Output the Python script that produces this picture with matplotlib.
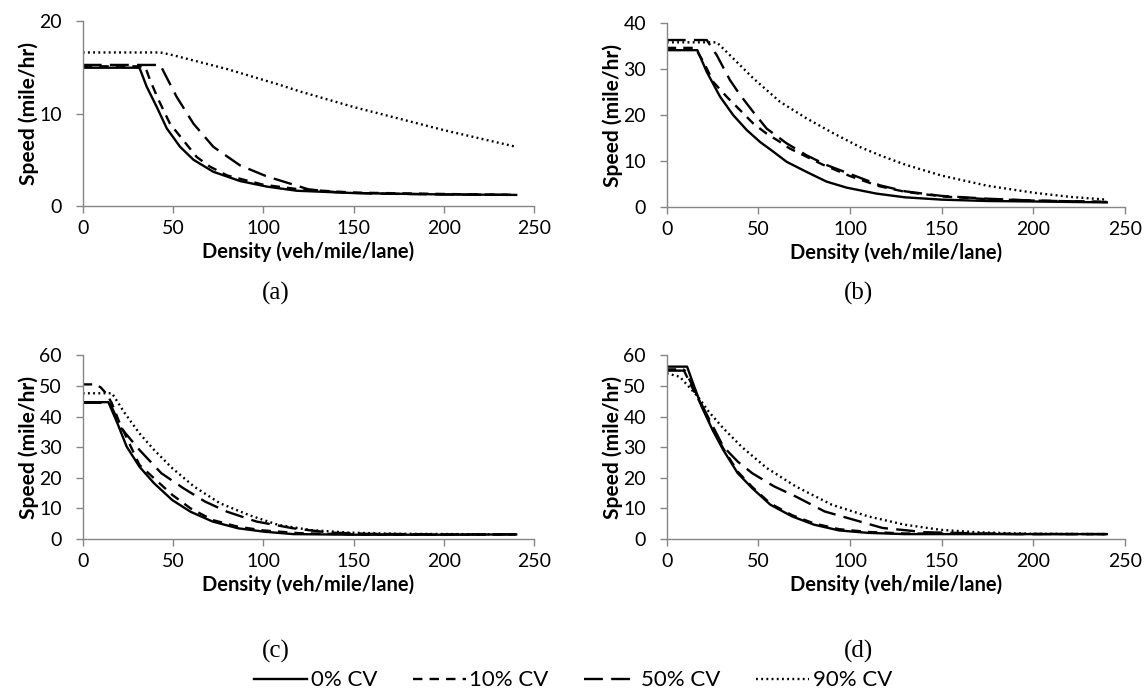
import matplotlib
matplotlib.use("Agg")
import matplotlib.pyplot as plt

plt.rcParams['font.family'] = ['Lato', 'DejaVu Sans']

# series labels
labels = ["0% CV", "10% CV", "50% CV", "90% CV"]

# (a) density / speed points
a_cv0_x = [0, 31.4, 35.4, 41, 46.5, 53.9, 61.3, 72.3, 87.1, 101.9, 118.5, 150, 200, 240]
a_cv0_y = [14.95, 14.95, 12.9, 10.7, 8.4, 6.4, 5.0, 3.7, 2.7, 2.1, 1.65, 1.4, 1.25, 1.2]
a_cv10_x = [0, 34.5, 37.3, 41.9, 48.3, 55.7, 63.1, 70.5, 80, 100, 120, 150, 200, 240]
a_cv10_y = [15.1, 15.1, 13.6, 11.5, 8.9, 7.1, 5.3, 4.25, 3.3, 2.3, 1.8, 1.45, 1.3, 1.2]
a_cv50_x = [0, 43, 44.6, 52, 61.3, 72.3, 87, 101.9, 118.5, 125, 140, 160, 200, 240]
a_cv50_y = [15.25, 15.25, 14.6, 11.8, 8.9, 6.4, 4.4, 3.2, 2.2, 1.8, 1.5, 1.35, 1.25, 1.2]
a_cv90_x = [0, 43, 50, 60, 80, 109, 120, 150, 200, 240]
a_cv90_y = [16.6, 16.6, 16.3, 15.8, 14.8, 13.1, 12.4, 10.7, 8.2, 6.4]

# (b)
b_cv0_x = [0, 16.7, 21.8, 29.1, 36.3, 43.6, 50.9, 58.1, 65.4, 76.3, 87.2, 98.1, 114.5, 130, 150, 175, 200, 240]
b_cv0_y = [34.1, 34.1, 29.4, 24.0, 20.0, 16.8, 14.2, 12.1, 9.9, 7.7, 5.6, 4.3, 3.0, 2.2, 1.7, 1.4, 1.3, 1.1]
b_cv10_x = [0, 15.4, 20, 25.4, 32.7, 40, 47.2, 54.5, 61.8, 67, 85, 100, 116, 130, 150, 175, 200, 240]
b_cv10_y = [34.6, 34.6, 31.6, 27.2, 24.0, 21.1, 18.2, 16.0, 14.2, 12.8, 9.3, 6.8, 4.6, 3.4, 2.4, 1.8, 1.5, 1.2]
b_cv50_x = [0, 21.8, 27.3, 34.5, 40, 47.2, 54.5, 65.4, 76.3, 87.2, 101.7, 116.3, 130, 150, 175, 200, 240]
b_cv50_y = [36.3, 36.3, 33.0, 27.6, 24.4, 20.7, 17.1, 13.9, 11.3, 9.2, 7.0, 4.8, 3.5, 2.5, 1.9, 1.5, 1.2]
b_cv90_x = [0, 27.3, 36.3, 47.2, 61.8, 76.3, 90.8, 105.4, 116.3, 130, 150, 175, 200, 220, 240]
b_cv90_y = [35.8, 35.8, 32.3, 28.0, 22.9, 19.3, 16.1, 13.1, 11.3, 9.3, 6.9, 4.7, 3.2, 2.3, 1.7]

# (c)
c_cv0_x = [0, 14.2, 19.2, 24.3, 31.4, 39.5, 49.6, 59.7, 71.9, 86, 100.2, 116.4, 150, 200, 240]
c_cv0_y = [44.7, 44.7, 37.8, 30.2, 23.6, 18.2, 12.7, 8.9, 5.7, 3.5, 2.4, 1.6, 1.4, 1.4, 1.5]
c_cv10_x = [0, 7.1, 10, 13, 16, 20, 31.4, 49.6, 59.7, 71.9, 86, 100, 120, 150, 200, 240]
c_cv10_y = [50.5, 50.5, 49.5, 47.5, 44.5, 38.5, 24.2, 14.4, 10.0, 6.2, 4.0, 2.8, 1.9, 1.5, 1.4, 1.5]
c_cv50_x = [0, 15, 21.3, 31.4, 43.5, 55.7, 67.8, 80, 96.2, 116.4, 136.6, 156.9, 200, 240]
c_cv50_y = [44.5, 44.5, 36.2, 29.1, 21.5, 16.6, 12.2, 8.9, 5.7, 3.5, 2.1, 1.7, 1.5, 1.5]
c_cv90_x = [0, 16.2, 23.3, 31.4, 39.5, 49.6, 61.7, 75.9, 92.1, 108.3, 126.5, 146.8, 175, 240]
c_cv90_y = [47.6, 47.6, 41.1, 34.5, 29.1, 23.1, 17.1, 11.7, 7.8, 4.6, 2.9, 2.1, 1.7, 1.5]

# (d)
d_cv0_x = [0, 11.1, 15, 19, 24.9, 30.8, 38.7, 46.6, 56.5, 68.3, 80.2, 94, 109.8, 129.5, 240]
d_cv0_y = [56.3, 56.3, 49.8, 43.3, 35.7, 29.1, 21.5, 16.6, 11.2, 7.4, 4.7, 2.8, 2.0, 1.6, 1.6]
d_cv10_x = [0, 9.1, 13, 19, 24.9, 30.8, 38.7, 46.6, 56.5, 68.3, 80.2, 94, 109.8, 129.5, 160, 240]
d_cv10_y = [55.4, 55.4, 50.5, 43.6, 36.2, 29.6, 22.0, 17.0, 11.6, 7.8, 5.1, 3.2, 2.3, 1.8, 1.7, 1.6]
d_cv50_x = [0, 10, 19, 30.8, 38.7, 46.6, 58.5, 70.3, 86.1, 101.9, 117.7, 141.4, 190, 240]
d_cv50_y = [55.0, 55.0, 44.0, 30.2, 25.3, 21.5, 17.2, 13.9, 9.0, 6.3, 3.6, 2.2, 1.6, 1.6]
d_cv90_x = [0, 7.1, 17, 22.9, 30.8, 40.7, 54.5, 70.3, 90, 109.8, 129.5, 149.3, 169, 198.7, 240]
d_cv90_y = [54.1, 53.0, 46.5, 41.6, 36.2, 30.2, 23.2, 17.2, 11.2, 7.4, 4.7, 3.0, 2.2, 1.7, 1.6]

panels = [
    ("(a)", [(a_cv0_x, a_cv0_y), (a_cv10_x, a_cv10_y), (a_cv50_x, a_cv50_y), (a_cv90_x, a_cv90_y)], 20),
    ("(b)", [(b_cv0_x, b_cv0_y), (b_cv10_x, b_cv10_y), (b_cv50_x, b_cv50_y), (b_cv90_x, b_cv90_y)], 40),
    ("(c)", [(c_cv0_x, c_cv0_y), (c_cv10_x, c_cv10_y), (c_cv50_x, c_cv50_y), (c_cv90_x, c_cv90_y)], 60),
    ("(d)", [(d_cv0_x, d_cv0_y), (d_cv10_x, d_cv10_y), (d_cv50_x, d_cv50_y), (d_cv90_x, d_cv90_y)], 60),
]

styles = [
    dict(linestyle="-", linewidth=1.7),
    dict(linestyle=(0, (4, 3)), linewidth=1.7),
    dict(linestyle=(0, (8, 3.5)), linewidth=1.7),
    dict(linestyle=(0, (0.8, 1.4)), linewidth=1.7),
]

# axes boxes in figure fractions
boxes = [
    [0.0722, 0.7057, 0.394, 0.2643],
    [0.5818, 0.7036, 0.400, 0.2636],
    [0.0722, 0.2300, 0.394, 0.2624],
    [0.5818, 0.2300, 0.400, 0.2624],
]
cap_pos = [(0.241, 0.581), (0.749, 0.581), (0.241, 0.069), (0.749, 0.069)]

gray = "#868686"
fig = plt.figure(figsize=(11.46, 7.0), dpi=100)

handles = []
for i, (cap, series, ymax) in enumerate(panels):
    ax = fig.add_axes(boxes[i])
    for (xs, ys), st, lab in zip(series, styles, labels):
        ln, = ax.plot(xs, ys, color="black", label=lab, **st)
        if i == 0:
            handles.append(ln)
    ax.set_xlim(0, 250)
    ax.set_ylim(0, ymax)
    ax.set_xticks(range(0, 251, 50))
    ax.set_yticks(range(0, ymax + 1, 10))
    for s in ["top", "right"]:
        ax.spines[s].set_visible(False)
    for s in ["left", "bottom"]:
        ax.spines[s].set_color(gray)
        ax.spines[s].set_linewidth(1.0)
    ax.tick_params(direction="out", length=5, color=gray, width=1.0, labelsize=14)
    ax.tick_params(axis="x", pad=5)
    ax.tick_params(axis="y", pad=10)
    ax.set_xlabel("Density (veh/mile/lane)", fontsize=14.5, fontweight="bold", labelpad=3)
    ax.set_ylabel("Speed (mile/hr)", fontsize=15, fontweight="bold", labelpad=0)
    fig.text(cap_pos[i][0], cap_pos[i][1], cap, ha="center", va="center",
             fontsize=18, family="Liberation Serif")

fig.legend(handles=handles, labels=labels, loc="center", bbox_to_anchor=(0.5, 0.028),
           ncol=4, frameon=False, fontsize=16, handlelength=2.4, columnspacing=1.6,
           handletextpad=0.15)

fig.savefig("out.png", dpi=100)
